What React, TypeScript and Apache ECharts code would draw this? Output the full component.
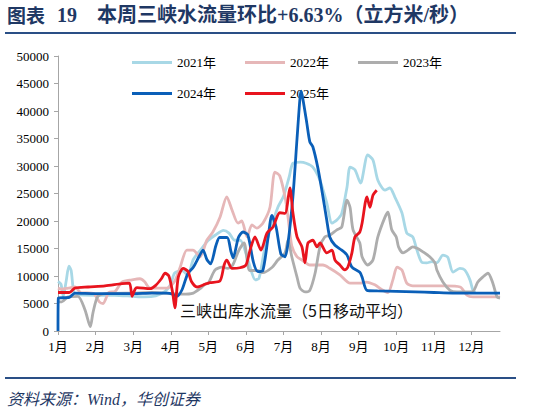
import React, { useEffect, useRef } from "react";
import * as echarts from "echarts";

// x values are in months since Jan 1 (0 = 1月, 1 = 2月, ...), y values in m³/s
const monthTicks = [0, 1, 2, 3, 4, 5, 6, 7, 8, 9, 10, 11];
const seriesNames = ["2021年", "2022年", "2023年", "2024年", "2025年"];

const s2021: [number, number][] = [
  [0, 9000], [0.08, 8500], [0.14, 6300], [0.22, 9200], [0.29, 11800], [0.35, 11000], [0.42, 7000],
  [0.5, 6600], [1.0, 6500], [1.5, 6500], [2.0, 6300], [2.3, 6200], [2.6, 6400], [2.85, 7200],
  [3.0, 8500], [3.1, 10500], [3.3, 11000], [3.45, 10200], [3.6, 13000], [3.8, 14800], [4.0, 16500],
  [4.2, 17500], [4.4, 18300], [4.55, 17800], [4.7, 16500], [4.85, 16500], [5.05, 13000],
  [5.25, 9300], [5.35, 9600], [5.5, 15000], [5.65, 18500], [5.85, 22500], [6.0, 24500],
  [6.15, 28000], [6.25, 30500], [6.45, 30700], [6.6, 30500], [6.78, 29800], [6.97, 27400],
  [7.15, 23300], [7.29, 19600], [7.42, 20200], [7.55, 21400], [7.69, 26200], [7.77, 29800],
  [7.9, 29300], [8.05, 26900], [8.24, 32000], [8.38, 31100], [8.51, 27400], [8.7, 25600],
  [8.83, 26000], [8.96, 24400], [9.15, 21500], [9.28, 17800], [9.44, 17100], [9.55, 14700],
  [9.68, 12500], [9.81, 12400], [9.95, 12600], [10.08, 12400], [10.24, 13800], [10.37, 13400],
  [10.51, 10700], [10.69, 11400], [10.82, 11100], [10.96, 9300], [11.04, 7400], [11.1, 7000],
];

const s2022: [number, number][] = [
  [0, 7800], [0.1, 7600], [0.27, 7800], [0.45, 8000], [0.6, 7000], [0.95, 6800], [1.1, 5300],
  [1.2, 5000], [1.35, 7000], [1.52, 7200], [1.7, 8900], [1.97, 9300], [2.18, 9500], [2.3, 9000],
  [2.45, 7800], [2.9, 7800], [3.1, 9000], [3.24, 11400], [3.43, 14700], [3.59, 14700],
  [3.78, 13500], [3.96, 16500], [4.12, 18000], [4.31, 20700], [4.49, 24400], [4.63, 22000],
  [4.79, 19600], [4.89, 20000], [5.03, 17100], [5.16, 19300], [5.29, 18700], [5.45, 19600],
  [5.64, 22500], [5.77, 28900], [5.9, 28200], [6.04, 24400], [6.12, 20700], [6.22, 15500],
  [6.36, 13500], [6.49, 12900], [6.7, 12000], [7.05, 12000], [7.23, 11400], [7.5, 10200],
  [7.77, 8700], [8.03, 8700], [8.2, 8900], [8.43, 8400], [8.62, 7500], [8.78, 7000], [8.91, 9300],
  [9.02, 11600], [9.15, 11100], [9.28, 8700], [9.44, 8200], [10.3, 8200], [10.7, 8000],
  [10.88, 6500], [11.04, 6200], [11.76, 6200],
];

const s2023: [number, number][] = [
  [0, 5300], [0.1, 5300], [0.27, 6200], [0.53, 6300], [0.72, 3800], [0.86, 800], [0.93, 3300],
  [1.06, 6300], [1.3, 6800], [2.0, 6900], [2.5, 7000], [3.0, 6800], [3.3, 6700], [3.6, 6900],
  [3.8, 7800], [3.91, 8500], [4.0, 8700], [4.18, 11100], [4.36, 11600], [4.52, 11400],
  [4.65, 12000], [4.8, 14500], [4.95, 16000], [5.1, 11000], [5.3, 11000], [5.45, 10600],
  [5.7, 11600], [5.85, 12900], [6.04, 14200], [6.12, 16500], [6.22, 13500], [6.36, 9800],
  [6.44, 7800], [6.57, 7100], [6.7, 7400], [6.84, 10500], [6.97, 15300], [7.1, 17100],
  [7.23, 17400], [7.42, 18400], [7.55, 18900], [7.69, 23800], [7.77, 22500], [7.85, 18400],
  [8.03, 16000], [8.09, 13500], [8.24, 12000], [8.38, 12900], [8.51, 17100], [8.7, 20700],
  [8.78, 21600], [8.88, 18400], [9.0, 17100], [9.06, 15300], [9.18, 14200], [9.31, 14700],
  [9.44, 15300], [9.57, 15000], [9.71, 14400], [9.89, 13500], [10.03, 12400], [10.08, 11100],
  [10.24, 8900], [10.43, 7400], [10.61, 7100], [10.88, 7100], [11.04, 7200], [11.17, 8900],
  [11.3, 9800], [11.44, 10500], [11.57, 8700], [11.68, 6200], [11.76, 6000],
];

const s2024: [number, number][] = [
  [0, 0], [0.01, 6000], [0.3, 6100], [0.45, 6900], [1.0, 6800], [2.0, 6800], [2.5, 6900],
  [2.9, 6900], [3.05, 6700], [3.16, 6300], [3.3, 7500], [3.45, 10400], [3.6, 11600], [3.75, 13500],
  [3.86, 14700], [3.96, 13000], [4.06, 12200], [4.2, 15500], [4.3, 17000], [4.5, 17000],
  [4.6, 14500], [4.66, 13300], [4.8, 17000], [4.92, 18000], [5.05, 17500], [5.2, 12500],
  [5.32, 10800], [5.45, 11000], [5.59, 17000], [5.69, 21000], [5.8, 19000], [5.93, 14000],
  [6.04, 13500], [6.12, 16000], [6.25, 24400], [6.36, 35000], [6.44, 42500], [6.47, 43600],
  [6.52, 42000], [6.62, 37800], [6.7, 34400], [6.78, 33500], [6.91, 29800], [7.02, 25600],
  [7.15, 20200], [7.23, 17100], [7.37, 15600], [7.55, 14700], [7.69, 13800], [7.82, 11600],
  [8.03, 10700], [8.09, 9800], [8.22, 7400], [8.5, 7300], [9.0, 7200], [9.5, 7100], [10.0, 7000],
  [10.5, 6900], [11.76, 6900],
];

const s2025: [number, number][] = [
  [0, 7000], [0.3, 7000], [0.45, 7800], [0.8, 8000], [1.25, 8200], [1.7, 8600], [1.9, 8700],
  [1.97, 6300], [2.05, 7600], [2.1, 7900], [2.45, 7700], [2.6, 8300], [2.75, 9500], [2.85, 10500],
  [2.95, 10000], [3.05, 7000], [3.11, 4200], [3.2, 9800], [3.33, 11400], [3.46, 10800],
  [3.55, 9000], [3.7, 8000], [3.91, 8500], [4.04, 8800], [4.31, 9100], [4.42, 12000],
  [4.49, 12900], [4.63, 11400], [4.84, 11500], [5.0, 12000], [5.11, 14700], [5.24, 17100],
  [5.4, 14700], [5.56, 17800], [5.72, 18900], [5.9, 21500], [6.04, 21400], [6.17, 26000],
  [6.25, 21500], [6.36, 17100], [6.49, 15300], [6.57, 12400], [6.65, 16000], [6.78, 16500],
  [6.89, 15300], [6.97, 16000], [7.15, 14200], [7.29, 14700], [7.37, 12900], [7.5, 12000],
  [7.63, 11100], [7.71, 11600], [7.82, 14200], [7.9, 17100], [8.03, 18000], [8.09, 19600],
  [8.22, 24400], [8.3, 22500], [8.38, 24700], [8.48, 25600],
];

const seriesData = [s2021, s2022, s2023, s2024, s2025];
const seriesColors = ["#A8D8E6", "#E6B7B8", "#ADADAD", "#0A5FB8", "#E8141E"];

const SERIF = "'Liberation Serif', 'Times New Roman', 'Noto Sans CJK SC', serif";
const CJK = "'Noto Sans CJK SC', sans-serif";
const NAVY = "#1F3864";

export default function App() {
  const ref = useRef<HTMLDivElement>(null);

  useEffect(() => {
    if (!ref.current) return;
    const chart = echarts.init(ref.current, undefined, { renderer: "svg" });
    const legendText = { fontFamily: SERIF, fontSize: 13, color: "#000" };
    const legendCommon = {
      icon: "rect",
      itemWidth: 40,
      itemHeight: 3,
      itemGap: 29,
      textStyle: legendText,
      left: 127,
    };
    chart.setOption({
      animation: false,
      grid: { left: 58, right: 35, top: 56, bottom: 82, containLabel: false },
      legend: [
        { ...legendCommon, top: 51, data: seriesNames.slice(0, 3) },
        { ...legendCommon, top: 82, data: seriesNames.slice(3) },
      ],
      xAxis: {
        type: "value",
        min: 0,
        max: 11.76,
        interval: 1,
        splitLine: { show: false },
        axisLine: { show: true, lineStyle: { color: "#A6A6A6", width: 1 } },
        axisTick: { show: true, length: 4, customValues: monthTicks, lineStyle: { color: "#A6A6A6" } },
        axisLabel: {
          customValues: monthTicks,
          margin: 9,
          fontFamily: SERIF,
          fontSize: 13,
          color: "#000",
          formatter: (v: number) =>
            Math.abs(v - Math.round(v)) < 1e-6 ? `${Math.round(v) + 1}月` : "",
        },
      },
      yAxis: {
        type: "value",
        min: 0,
        max: 50000,
        interval: 5000,
        splitLine: { show: false },
        axisLine: { show: true, lineStyle: { color: "#A6A6A6", width: 1 } },
        axisTick: { show: true, length: 4, lineStyle: { color: "#A6A6A6" } },
        axisLabel: {
          margin: 9,
          fontFamily: SERIF,
          fontSize: 13,
          color: "#000",
          formatter: (v: number) => String(v),
        },
      },
      series: seriesNames.map((name, i) => ({
        name,
        type: "line",
        data: seriesData[i],
        showSymbol: false,
        symbol: "none",
        smooth: 0.25,
        z: 2 + i,
        itemStyle: { color: seriesColors[i] },
        lineStyle: { color: seriesColors[i], width: 2.8 },
      })),
      graphic: [
        {
          type: "text",
          left: 7,
          top: 5,
          style: { text: "图表", fontFamily: CJK, fontWeight: "bold", fontSize: 19, fill: NAVY },
        },
        {
          type: "text",
          left: 57,
          top: 5,
          style: { text: "19", fontFamily: SERIF, fontWeight: "bold", fontSize: 20, fill: NAVY },
        },
        {
          type: "text",
          left: 97,
          top: 5,
          style: {
            text: "本周三峡水流量环比+6.63%（立方米/秒）",
            fontFamily: SERIF,
            fontWeight: "bold",
            fontSize: 20,
            fill: NAVY,
          },
        },
        {
          type: "line",
          shape: { x1: 5, y1: 33, x2: 516, y2: 33 },
          style: { stroke: "#2A4F86", lineWidth: 2 },
        },
        {
          type: "text",
          left: 180,
          top: 302,
          style: {
            text: "三峡出库水流量（5日移动平均）",
            fontFamily: CJK,
            fontSize: 16,
            fill: "#111",
          },
        },
        {
          type: "line",
          shape: { x1: 5, y1: 378, x2: 516, y2: 378 },
          style: { stroke: "#2A4F86", lineWidth: 2 },
        },
        {
          type: "text",
          left: 7,
          top: 391,
          style: {
            text: "资料来源：Wind，华创证券",
            fontFamily: SERIF,
            fontStyle: "italic",
            fontSize: 16,
            fill: NAVY,
          },
        },
      ],
    });
    return () => chart.dispose();
  }, []);

  return (
    <div
      ref={ref}
      style={{ position: "absolute", left: 0, top: 0, width: 535, height: 413, background: "#fff" }}
    />
  );
}
